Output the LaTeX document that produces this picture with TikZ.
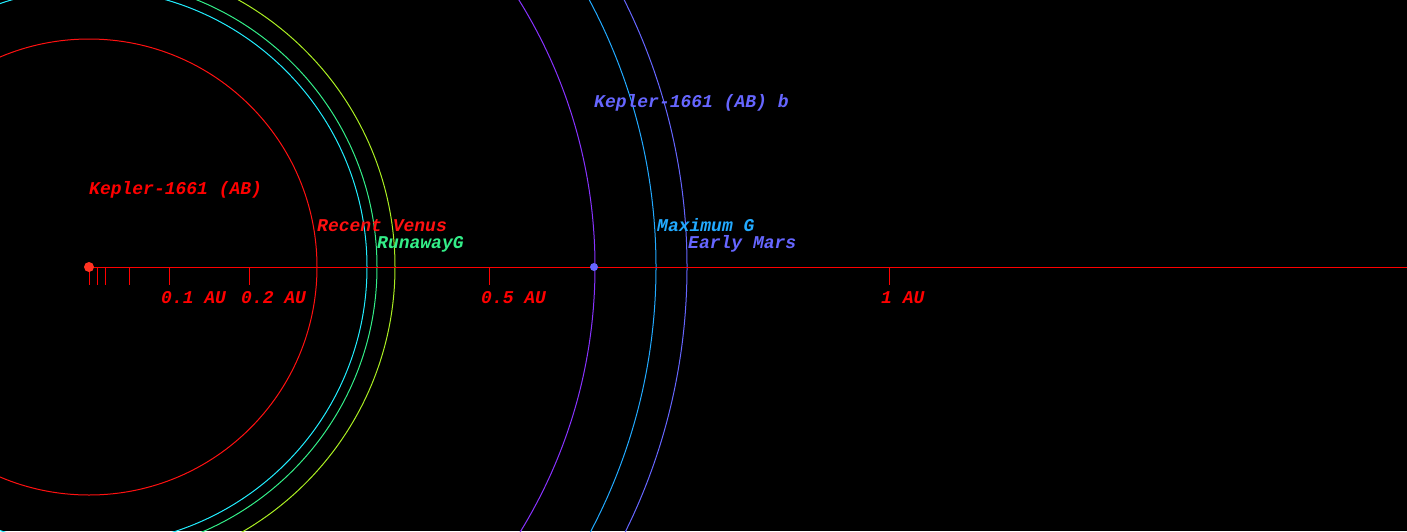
\documentclass[tikz,border=0pt]{standalone}
\usepackage{fontspec}
\setmonofont{Liberation Mono}
\definecolor{starred}{HTML}{FF3322}
\definecolor{venusred}{HTML}{FF1111}
\definecolor{innercyan}{HTML}{22EEFF}
\definecolor{runawaygreen}{HTML}{33EE88}
\definecolor{outerlime}{HTML}{AAEE22}
\definecolor{orbitpurple}{HTML}{8833FF}
\definecolor{maxsky}{HTML}{22AAFF}
\definecolor{marsblue}{HTML}{6666FF}
\begin{document}
\begin{tikzpicture}[x=1pt, y=-1pt,
    lbl/.style={font=\ttfamily\bfseries\itshape\fontsize{18}{20}\selectfont, anchor=base west, inner sep=0pt},
    orbit/.style={line width=1pt}]
    \fill[black] (0,0) rectangle (1407,531);
    \clip (0,0) rectangle (1407,531);
    \coordinate (origin) at (89,267);
    \coordinate (axisend) at (1407,267);
    % habitable zone edges
    \draw[orbit, venusred] (origin) circle[radius=228];
    \draw[orbit, innercyan] (origin) circle[radius=278];
    \draw[orbit, runawaygreen] (origin) circle[radius=288];
    \draw[orbit, outerlime] (origin) circle[radius=306];
    \draw[orbit, orbitpurple] (origin) circle[radius=506];
    \draw[orbit, maxsky] (origin) circle[radius=567];
    \draw[orbit, marsblue] (origin) circle[radius=598];
    % axis
    \draw[orbit, red] (origin) -- (axisend);
    \foreach \t in {0,8,16,40,80,160,400,800} {
      \draw[orbit, red] (origin) ++(\t,0) -- ++(0,18);
    }
    \foreach \t/\m in {80/0.1 AU, 160/0.2 AU, 400/0.5 AU, 800/1 AU} {
      \path (origin) ++(\t-8,36) node[lbl, red] {\m};
    }
    \node[circle, fill=starred, inner sep=0pt, minimum size=10pt] (star) at (origin) {};
    \node[circle, fill=marsblue, inner sep=0pt, minimum size=8pt] (planet) at (594,267) {};
    \node[lbl, red] (starname) at (89,194) {Kepler-1661 (AB)};
    \node[lbl, marsblue] (planetname) at (594,107) {Kepler-1661 (AB) b};
    \node[lbl, venusred] (venus) at (317,231) {Recent Venus};
    \node[lbl, runawaygreen] (runaway) at (377,248) {RunawayG};
    \node[lbl, maxsky] (maxg) at (657,231) {Maximum G};
    \node[lbl, marsblue] (mars) at (688,248) {Early Mars};
\end{tikzpicture}
\end{document}
